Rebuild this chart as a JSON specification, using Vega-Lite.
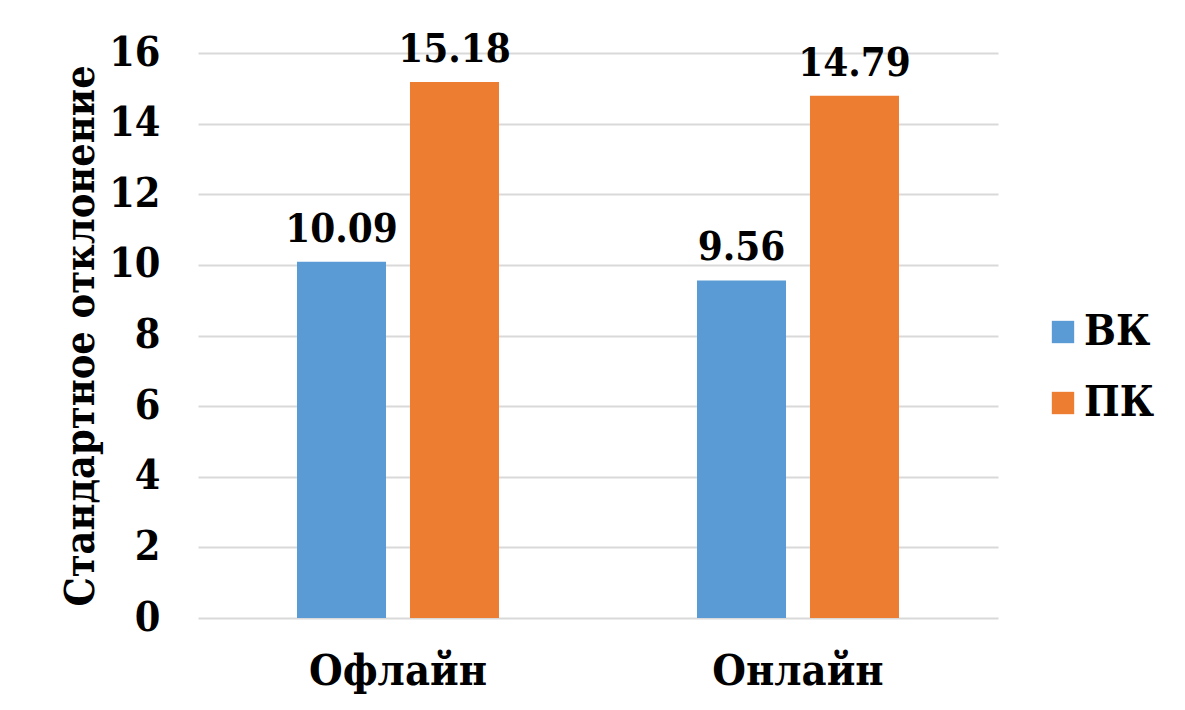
{
  "$schema": "https://vega.github.io/schema/vega-lite/v6.json",
  "width": 800,
  "height": 565,
  "autosize": {"type": "none"},
  "padding": {"left": 198, "top": 53, "right": 187, "bottom": 92},
  "background": "white",
  "data": {
    "values": [
      {"mode": "Офлайн", "group": "ВК", "sd": 10.09},
      {"mode": "Офлайн", "group": "ПК", "sd": 15.18},
      {"mode": "Онлайн", "group": "ВК", "sd": 9.56},
      {"mode": "Онлайн", "group": "ПК", "sd": 14.79}
    ]
  },
  "encoding": {
    "x": {
      "field": "mode",
      "type": "nominal",
      "sort": ["Офлайн", "Онлайн"],
      "scale": {"paddingInner": 0.495, "paddingOuter": 0.2475},
      "axis": {
        "title": null,
        "labelAngle": 0,
        "labelLimit": 0,
        "labelFont": "DejaVu Serif Condensed",
        "labelFontWeight": "bold",
        "labelFontSize": 43,
        "labelColor": "#000000",
        "labelPadding": 32,
        "domain": false,
        "ticks": false
      }
    },
    "xOffset": {
      "field": "group",
      "type": "nominal",
      "scale": {"paddingInner": 0.212, "paddingOuter": 0}
    },
    "y": {
      "field": "sd",
      "type": "quantitative",
      "scale": {"domain": [0, 16], "nice": false},
      "axis": {
        "title": "Стандартное отклонение",
        "titleFont": "DejaVu Serif Condensed",
        "titleFontWeight": "bold",
        "titleFontSize": 41,
        "titleColor": "#000000",
        "titleX": -96,
        "values": [0, 2, 4, 6, 8, 10, 12, 14, 16],
        "labelFont": "DejaVu Serif Condensed",
        "labelFontWeight": "bold",
        "labelFontSize": 41,
        "labelColor": "#000000",
        "labelPadding": 38,
        "domain": false,
        "ticks": false,
        "gridColor": "#d9d9d9",
        "gridWidth": 2
      }
    }
  },
  "layer": [
    {
      "mark": {"type": "bar"},
      "encoding": {
        "color": {
          "field": "group",
          "type": "nominal",
          "scale": {"domain": ["ВК", "ПК"], "range": ["#5B9BD5", "#ED7D31"]},
          "legend": {
            "title": null,
            "orient": "none",
            "legendX": 844,
            "legendY": 258,
            "symbolType": "square",
            "symbolSize": 500,
            "symbolStrokeWidth": 0,
            "labelFont": "DejaVu Serif Condensed",
            "labelFontWeight": "bold",
            "labelFontSize": 42,
            "labelColor": "#000000",
            "rowPadding": 29,
            "labelOffset": 0
          }
        }
      }
    },
    {
      "mark": {
        "type": "text",
        "baseline": "bottom",
        "dy": -12,
        "font": "DejaVu Serif Condensed",
        "fontWeight": "bold",
        "fontSize": 40,
        "color": "#000000"
      },
      "encoding": {
        "text": {"field": "sd", "type": "quantitative", "format": ".2f"}
      }
    }
  ],
  "config": {
    "view": {"stroke": null}
  }
}
